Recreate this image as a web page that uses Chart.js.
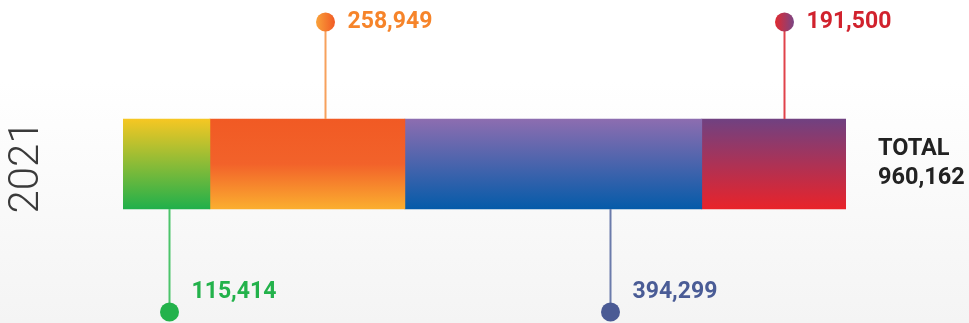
<!DOCTYPE html>
<html>
<head>
<meta charset="utf-8">
<script src="https://cdn.jsdelivr.net/npm/chart.js@4/dist/chart.umd.min.js"></script>
<style>
  html, body { margin: 0; padding: 0; }
  body {
    width: 969px;
    height: 323px;
    background: linear-gradient(to bottom, #ffffff 0%, #ffffff 25%, #f4f4f4 100%);
    font-family: Roboto, "Noto Sans", sans-serif;
  }
  #wrap { position: relative; width: 969px; height: 323px; }
</style>
</head>
<body>
<div id="wrap"><canvas id="chart"></canvas></div>
<script>
const years = ['2021'];
const seriesNames = ['Segment A', 'Segment B', 'Segment C', 'Segment D'];
const seriesValues = [115414, 258949, 394299, 191500];
const totalLabel = 'TOTAL';

const BAR_THICKNESS = 90;

// colours per segment: gradient stops (top -> bottom), label colour, stem colour
const segmentStyles = [
  { stops: [[0, '#f6c723'], [1, '#20b04b']], text: '#23b24b', stem: '#4cc46b', dot: ['#23b24b', '#23b24b'], side: 'down', anchor: 0.53 },
  { stops: [[0, '#f15a24'], [0.5, '#f2622a'], [1, '#fbae2f']], text: '#f6842a', stem: '#f7a15c', dot: ['#f9a23a', '#f15a24'], side: 'up', anchor: 0.59 },
  { stops: [[0, '#8d6db0'], [1, '#055ba9']], text: '#4a5c96', stem: '#6b7bab', dot: ['#4a5a94', '#4a5a94'], side: 'down', anchor: 0.69 },
  { stops: [[0, '#704181'], [1, '#e9232a']], text: '#d1222d', stem: '#e0424b', dot: ['#e02a30', '#7a4585'], side: 'up', anchor: 0.57 },
];

const fmt = (v) => v.toLocaleString('en-US');

function barGradient(ctx, i) {
  const chart = ctx.chart;
  const area = chart.chartArea;
  if (!area) return segmentStyles[i].stops[0][1];
  const mid = (area.top + area.bottom) / 2;
  const g = chart.ctx.createLinearGradient(0, mid - BAR_THICKNESS / 2, 0, mid + BAR_THICKNESS / 2);
  segmentStyles[i].stops.forEach(([p, c]) => g.addColorStop(p, c));
  return g;
}

// stems, dots and value labels above / below each segment
const calloutPlugin = {
  id: 'callouts',
  afterDatasetsDraw(chart) {
    const c = chart.ctx;
    chart.data.datasets.forEach((ds, i) => {
      const el = chart.getDatasetMeta(i).data[0];
      const st = segmentStyles[i];
      const left = el.base;
      const right = el.x;
      const x = Math.round(left + (right - left) * st.anchor) + 0.5;
      const top = el.y - el.height / 2;
      const bottom = el.y + el.height / 2;
      const dotY = st.side === 'up' ? 22 : 312;
      c.save();
      c.strokeStyle = st.stem;
      c.lineWidth = 2;
      c.beginPath();
      c.moveTo(x, st.side === 'up' ? top : bottom);
      c.lineTo(x, dotY);
      c.stroke();

      const r = 9.5;
      const g = c.createLinearGradient(x - r, 0, x + r, 0);
      g.addColorStop(0, st.dot[0]);
      g.addColorStop(1, st.dot[1]);
      c.fillStyle = g;
      c.beginPath();
      c.arc(x, dotY, r, 0, Math.PI * 2);
      c.fill();

      c.fillStyle = st.text;
      c.font = 'bold 23px Roboto';
      c.textBaseline = 'middle';
      c.textAlign = 'left';
      const labelY = st.side === 'up' ? dotY : 292;
      c.fillText(fmt(ds.data[0]), x + 22, labelY);
      c.restore();
    });
  },
};

// year on the left, total on the right
const sideTextPlugin = {
  id: 'sideText',
  afterDraw(chart) {
    const c = chart.ctx;
    const el = chart.getDatasetMeta(0).data[0];
    const lastEl = chart.getDatasetMeta(chart.data.datasets.length - 1).data[0];
    const cy = el.y;
    c.save();
    c.translate(27, cy + 3);
    c.rotate(-Math.PI / 2);
    c.fillStyle = '#3a3a3a';
    c.font = '300 42px Roboto';
    c.textAlign = 'center';
    c.textBaseline = 'middle';
    c.fillText(chart.data.labels[0], 0, 0);
    c.restore();

    const total = seriesValues.reduce((a, b) => a + b, 0);
    c.save();
    c.fillStyle = '#222222';
    c.font = 'bold 23.5px Roboto';
    c.textAlign = 'left';
    c.textBaseline = 'middle';
    c.fillText(totalLabel, lastEl.x + 32, cy - 15);
    c.fillText(fmt(total), lastEl.x + 32, cy + 14);
    c.restore();
  },
};

const total = seriesValues.reduce((a, b) => a + b, 0);

new Chart(document.getElementById('chart'), {
  type: 'bar',
  data: {
    labels: years,
    datasets: seriesNames.map((name, i) => ({
      label: name,
      data: [seriesValues[i]],
      backgroundColor: (ctx) => barGradient(ctx, i),
      borderWidth: 0,
      barThickness: BAR_THICKNESS,
    })),
  },
  options: {
    indexAxis: 'y',
    responsive: true,
    maintainAspectRatio: false,
    animation: false,
    layout: { padding: { left: 123, right: 123, top: 5, bottom: 0 } },
    plugins: {
      legend: { display: false },
      tooltip: { enabled: false },
    },
    scales: {
      x: { stacked: true, display: false, min: 0, max: total },
      y: { stacked: true, display: false },
    },
  },
  plugins: [calloutPlugin, sideTextPlugin],
});
</script>
</body>
</html>
